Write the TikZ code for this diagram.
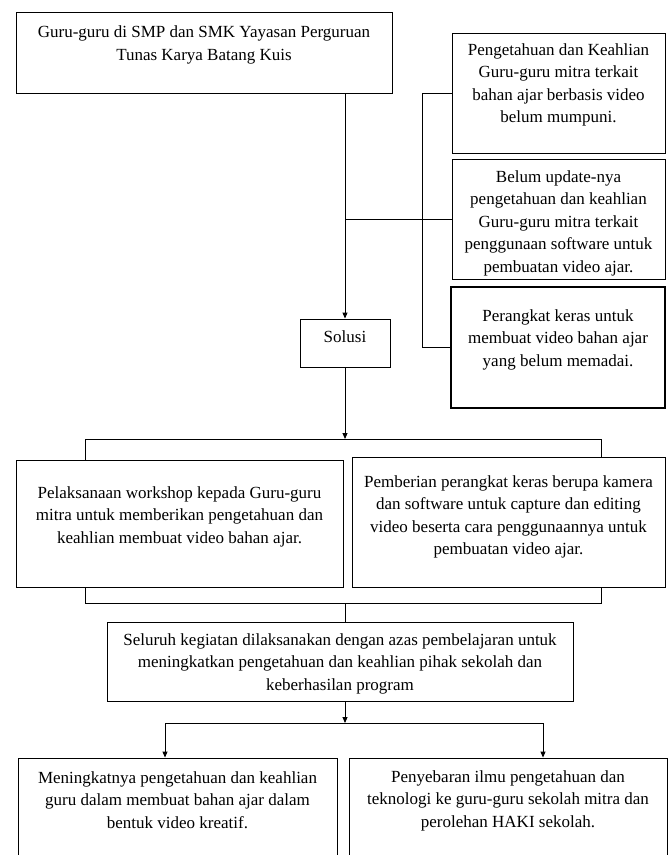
\documentclass[tikz,border=0pt]{standalone}
\usepackage{fontspec}
\setmainfont{Liberation Serif}
\usetikzlibrary{arrows.meta}
\begin{document}
\begin{tikzpicture}[x=1pt,y=-1pt,
  box/.style={draw, line width=0.9pt, inner sep=0pt},
  txt/.style={anchor=north, align=center, inner sep=0pt, font=\fontsize{17}{22.5}\selectfont},
  conn/.style={line width=0.9pt},
  arr/.style={line width=0.9pt, -{Triangle[length=6pt,width=5pt]}}]
\useasboundingbox (0,0) rectangle (668,855);
\clip (0,0) rectangle (668,855);
\fill[white] (0,0) rectangle (668,855);
% boxes
\node[box, minimum width=376, minimum height=81] (top) at (204,52.5) {};
\node[box, minimum width=213, minimum height=120] (r1) at (558.5,93) {};
\node[box, minimum width=213, minimum height=120] (r2) at (558.5,219) {};
\node[box, line width=1.2pt, minimum width=214, minimum height=121] (r3) at (558,347.5) {};
\node[box, minimum width=90, minimum height=48] (sol) at (345,343) {};
\node[box, minimum width=327, minimum height=127] (L) at (179.5,523.5) {};
\node[box, minimum width=313, minimum height=130] (R) at (508.5,522) {};
\node[box, minimum width=466, minimum height=79] (sel) at (340,661.5) {};
\node[box, minimum width=319, minimum height=122] (BL) at (177.5,819) {};
\node[box, minimum width=318, minimum height=122] (BR) at (508,819) {};
% texts
\node[txt] (ttop) at (204,26) {Guru-guru di SMP dan SMK Yayasan Perguruan\\Tunas Karya Batang Kuis};
\node[txt] (tr1) at (558.5,43) {Pengetahuan dan Keahlian\\Guru-guru mitra terkait\\bahan ajar berbasis video\\belum mumpuni.};
\node[txt] (tr2) at (558.5,170) {Belum update-nya\\pengetahuan dan keahlian\\Guru-guru mitra terkait\\penggunaan software untuk\\pembuatan video ajar.};
\node[txt] (tr3) at (558,309) {Perangkat keras untuk\\membuat video bahan ajar\\yang belum memadai.};
\node[txt] (tsol) at (345,330) {Solusi};
\node[txt] (tL) at (179.5,486) {Pelaksanaan workshop kepada Guru-guru\\mitra untuk memberikan pengetahuan dan\\keahlian membuat video bahan ajar.};
\node[txt] (tR) at (508.5,475) {Pemberian perangkat keras berupa kamera\\dan software untuk capture dan editing\\video beserta cara penggunaannya untuk\\pembuatan video ajar.};
\node[txt] (tsel) at (340,633) {Seluruh kegiatan dilaksanakan dengan azas pembelajaran untuk\\meningkatkan pengetahuan dan keahlian pihak sekolah dan\\keberhasilan program};
\node[txt] (tBL) at (177.5,771) {Meningkatnya pengetahuan dan keahlian\\guru dalam membuat bahan ajar dalam\\bentuk video kreatif.};
\node[txt] (tBR) at (508,770) {Penyebaran ilmu pengetahuan dan\\teknologi ke guru-guru sekolah mitra dan\\perolehan HAKI sekolah.};
% coordinates
\coordinate (bx) at (422,0);
\coordinate (b1) at (344,439);
\coordinate (bl) at (85,439);
\coordinate (br) at (601,439);
\coordinate (ml) at (85,603);
\coordinate (mr) at (601,603);
\coordinate (mm) at (345,603);
\coordinate (s1) at (345,723);
\coordinate (sl) at (165,723);
\coordinate (sr) at (543,723);
% connectors
\draw[arr] (sol.north |- top.south) -- (sol.north);
\draw[conn] (r1.west) -- (r1.west -| bx) -- (r3.west -| bx) -- (r3.west);
\draw[conn] (r2.west) -- (r2.west -| sol.north);
\draw[arr] (sol.south) -- (sol.south |- b1);
\draw[conn] (bl |- L.north) -- (bl) -- (br) -- (br |- R.north);
\draw[conn] (ml |- L.south) -- (ml) -- (mr) -- (mr |- R.south);
\draw[conn] (mm) -- (mm |- sel.north);
\draw[arr] (s1 |- sel.south) -- (s1);
\draw[conn] (sl) -- (sr);
\draw[arr] (sl) -- (sl |- BL.north);
\draw[arr] (sr) -- (sr |- BR.north);
\end{tikzpicture}
\end{document}
